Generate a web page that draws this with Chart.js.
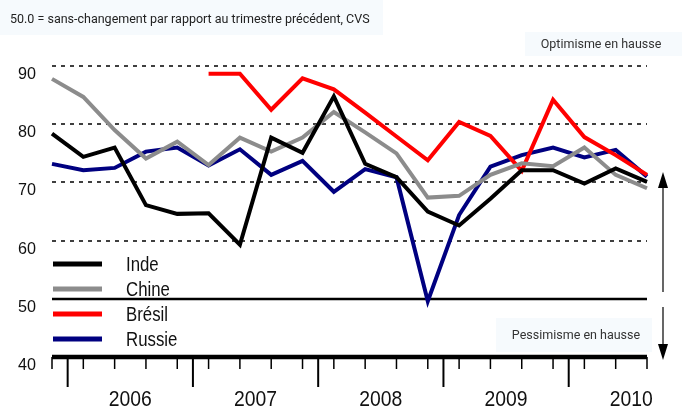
<!DOCTYPE html>
<html>
<head>
<meta charset="utf-8">
<script src="https://cdn.jsdelivr.net/npm/chart.js@4.4.0/dist/chart.umd.min.js"></script>
<style>
  body { margin: 0; background: #fff; }
  #wrap { position: relative; width: 682px; height: 407px; }
</style>
</head>
<body>
<div id="wrap"><canvas id="pmi"></canvas></div>
<script>
// quarterly data, T4 2005 -> T3 2010
var quarters = ['T4 05','T1 06','T2 06','T3 06','T4 06','T1 07','T2 07','T3 07','T4 07',
                'T1 08','T2 08','T3 08','T4 08','T1 09','T2 09','T3 09','T4 09','T1 10','T2 10','T3 10'];
var years = ['2006','2007','2008','2009','2010'];
var yTicks = [40, 50, 60, 70, 80, 90];

var inde   = [78.4,74.4,76.0,66.1,64.6,64.7,59.3,77.7,75.1,84.8,73.2,70.9,65.0,62.6,67.2,72.1,72.1,69.8,72.4,70.1];
var chine  = [87.8,84.7,79.0,74.1,77.0,73.0,77.7,75.3,77.7,82.1,78.6,75.0,67.4,67.7,71.3,73.3,72.8,76.0,71.3,69.0];
var bresil = [null,null,null,null,null,88.7,88.7,82.5,87.9,86.0,82.0,77.9,73.8,80.4,78.0,72.0,84.2,77.8,74.7,71.3];
var russie = [73.2,72.1,72.5,75.3,76.0,72.9,75.7,71.3,73.7,68.4,72.3,70.9,49.6,64.4,72.7,74.7,76.0,74.3,75.6,71.0];

var seriesNames = ['Inde', 'Chine', 'Brésil', 'Russie'];
var seriesColors = ['#000000', '#8c8c8c', '#ff0000', '#000080'];

var ARIAL = '"Liberation Sans", Arial, sans-serif';

function box(ctx, x, y, w, h) {
  ctx.fillStyle = '#f6fafd';
  ctx.fillRect(x, y, w, h);
}

// condensed text: draw arial squeezed horizontally
function narrowText(ctx, text, x, y, size, sx, align) {
  ctx.save();
  ctx.translate(x, y);
  ctx.scale(sx, 1);
  ctx.font = size + 'px ' + ARIAL;
  ctx.textAlign = align;
  ctx.textBaseline = 'alphabetic';
  ctx.fillStyle = '#111';
  ctx.fillText(text, 0, 0);
  ctx.restore();
}

function arrow(ctx, x, y1, y2) {
  // line from y1 to tip at y2
  var dir = y2 < y1 ? -1 : 1;
  ctx.strokeStyle = '#000';
  ctx.fillStyle = '#000';
  ctx.lineWidth = 1.2;
  ctx.beginPath();
  ctx.moveTo(x, y1);
  ctx.lineTo(x, y2 - dir * 12);
  ctx.stroke();
  ctx.beginPath();
  ctx.moveTo(x, y2);
  ctx.lineTo(x - 5, y2 - dir * 16);
  ctx.lineTo(x + 5, y2 - dir * 16);
  ctx.closePath();
  ctx.fill();
}

var axesPlugin = {
  id: 'axesPlugin',
  beforeDatasetsDraw: function(chart) {
    var ctx = chart.ctx, xs = chart.scales.x, ys = chart.scales.y;
    var L = chart.chartArea.left, R = chart.chartArea.right;
    ctx.save();
    // background annotation boxes
    box(ctx, 0, 0, 383, 35);
    box(ctx, 525, 32, 157, 24);
    box(ctx, 496, 318, 156, 34);
    ctx.fillStyle = '#222';
    ctx.font = '12.5px Roboto, sans-serif';
    ctx.textBaseline = 'alphabetic';
    ctx.textAlign = 'left';
    ctx.fillText('50.0 = sans-changement par rapport au trimestre précédent, CVS', 10, 23);
    ctx.fillStyle = '#333';
    ctx.font = '12.5px Roboto, sans-serif';
    ctx.textAlign = 'center';
    ctx.fillText('Optimisme en hausse', 601, 48);
    ctx.fillText('Pessimisme en hausse', 576, 339);

    // grid
    yTicks.forEach(function(v) {
      var y = Math.round(ys.getPixelForValue(v));
      ctx.strokeStyle = '#000';
      if (v >= 60) {
        ctx.setLineDash([4, 5]);
        ctx.lineWidth = 1.6;
        ctx.beginPath(); ctx.moveTo(L, y); ctx.lineTo(R, y); ctx.stroke();
        ctx.setLineDash([]);
      } else if (v === 50) {
        ctx.lineWidth = 2.5;
        ctx.beginPath(); ctx.moveTo(L, y); ctx.lineTo(R, y); ctx.stroke();
      }
      narrowText(ctx, String(v), 36, y + 12.5, 17, 0.95, 'right');
    });

    // x axis
    var yb = ys.getPixelForValue(40);
    var step = xs.getPixelForValue(1) - xs.getPixelForValue(0);
    ctx.strokeStyle = '#000';
    ctx.lineWidth = 1.5;
    quarters.forEach(function(q, i) {
      var x = xs.getPixelForValue(i);
      ctx.beginPath(); ctx.moveTo(x, yb); ctx.lineTo(x, yb + 12); ctx.stroke();
    });
    ctx.lineWidth = 2;
    years.forEach(function(yr, k) {
      var xb = xs.getPixelForValue(4 * k) + step / 2;
      ctx.beginPath(); ctx.moveTo(xb, yb); ctx.lineTo(xb, yb + 30); ctx.stroke();
      narrowText(ctx, yr, xb + step * 2, 406, 22, 0.88, 'center');
    });
    ctx.lineWidth = 4.5;
    ctx.beginPath(); ctx.moveTo(L, yb); ctx.lineTo(R, yb); ctx.stroke();
    ctx.restore();
  },
  afterDatasetsDraw: function(chart) {
    var ctx = chart.ctx;
    ctx.save();
    // legend
    seriesNames.forEach(function(name, i) {
      var y = 264 + i * 25;
      ctx.strokeStyle = seriesColors[i];
      ctx.lineWidth = 5;
      ctx.beginPath(); ctx.moveTo(53, y); ctx.lineTo(102, y); ctx.stroke();
      narrowText(ctx, name, 126, y + 7, 20, 0.84, 'left');
    });
    arrow(ctx, 663, 292, 172);
    arrow(ctx, 663, 307, 360);
    ctx.restore();
  }
};

var ds = [inde, chine, bresil, russie].map(function(d, i) {
  return {
    label: seriesNames[i],
    data: d,
    borderColor: seriesColors[i],
    backgroundColor: seriesColors[i],
    borderWidth: 4,
    pointRadius: 0,
    tension: 0,
    fill: false,
    spanGaps: false,
    borderJoinStyle: 'miter'
  };
});

new Chart(document.getElementById('pmi'), {
  type: 'line',
  data: { labels: quarters, datasets: ds },
  options: {
    responsive: true,
    maintainAspectRatio: false,
    animation: false,
    layout: { padding: { left: 52, right: 35, top: 37, bottom: 50 } },
    plugins: { legend: { display: false }, tooltip: { enabled: false } },
    scales: {
      x: { display: false, offset: false },
      y: { display: false, min: 40, max: 95 }
    }
  },
  plugins: [axesPlugin]
});
</script>
</body>
</html>
